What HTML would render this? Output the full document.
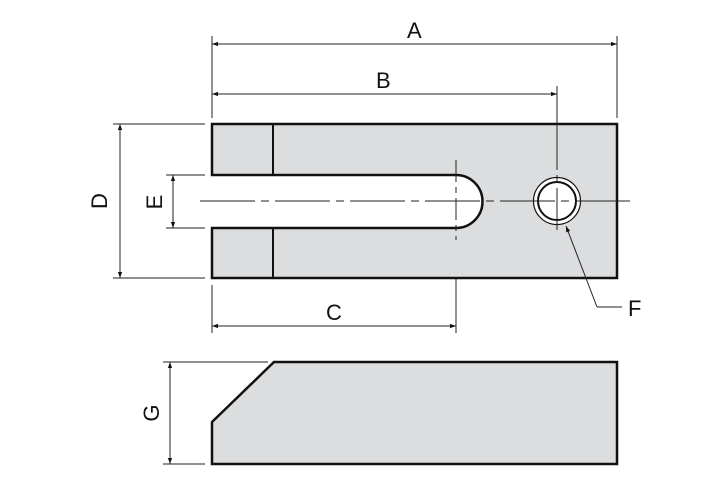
<!DOCTYPE html>
<html><head><style>body{margin:0;background:#fff}svg{display:block}text{font-family:"Liberation Sans",sans-serif;font-size:22px;fill:#111}</style></head><body>
<svg width="716" height="499" viewBox="0 0 716 499">
<defs><marker id="a" viewBox="0 0 10 10" refX="10" refY="5" markerWidth="14" markerHeight="6" markerUnits="userSpaceOnUse" orient="auto-start-reverse"><path d="M0,1.5L10,5L0,8.5z" fill="#111"/></marker></defs>
<g stroke="#222" stroke-width="1" fill="none">
<line x1="212" y1="36" x2="212" y2="118"/><line x1="617" y1="36" x2="617" y2="118"/>
<line x1="557" y1="86" x2="557" y2="118"/>
<line x1="113" y1="124" x2="205" y2="124"/><line x1="113" y1="278" x2="205" y2="278"/>
<line x1="166" y1="175" x2="205" y2="175"/><line x1="166" y1="228" x2="205" y2="228"/>
<line x1="212" y1="285" x2="212" y2="333"/><line x1="456" y1="240" x2="456" y2="333"/>
<line x1="163" y1="362" x2="268" y2="362"/><line x1="163" y1="464" x2="205" y2="464"/>
</g>
<g stroke="#222" stroke-width="1" marker-start="url(#a)" marker-end="url(#a)">
<line x1="212" y1="44" x2="617" y2="44"/><line x1="212" y1="94" x2="557" y2="94"/>
<line x1="212" y1="326" x2="456" y2="326"/><line x1="120" y1="124" x2="120" y2="278"/>
<line x1="173" y1="175" x2="173" y2="228"/><line x1="170" y1="362" x2="170" y2="464"/>
</g>
<path d="M212,124H617V278H212V228H456A26.5,26.5 0 0 0 456,175H212Z" fill="#dcdddf" stroke="#111" stroke-width="2.5"/>
<line x1="273" y1="124" x2="273" y2="175" stroke="#111" stroke-width="2"/>
<line x1="273" y1="228" x2="273" y2="278" stroke="#111" stroke-width="2"/>
<circle cx="557" cy="201" r="23.5" fill="#fff" stroke="#111" stroke-width="1.2"/>
<circle cx="557" cy="201" r="19" fill="#fff" stroke="#111" stroke-width="2"/>
<g stroke="#222" stroke-width="1" stroke-dasharray="55,6,8,6">
<line x1="200" y1="201" x2="635" y2="201"/>
</g>
<line x1="456" y1="160" x2="456" y2="240" stroke="#222" stroke-dasharray="22,5,6,5"/>
<line x1="557" y1="115" x2="557" y2="230" stroke="#222" stroke-dasharray="55,5,8,5"/>
<polyline points="597,307 566,226" stroke="#222" fill="none" marker-end="url(#a)"/>
<line x1="597" y1="307" x2="622" y2="307" stroke="#222"/>
<path d="M274,362H617V464H212V422Z" fill="#dcdddf" stroke="#111" stroke-width="2.5"/>
<text x="407" y="38">A</text><text x="376" y="88">B</text><text x="326" y="320">C</text>
<text x="628" y="316">F</text>
<text transform="translate(107,201) rotate(-90)" text-anchor="middle">D</text>
<text transform="translate(162,202) rotate(-90)" text-anchor="middle">E</text>
<text transform="translate(159,413) rotate(-90)" text-anchor="middle">G</text>
</svg></body></html>
